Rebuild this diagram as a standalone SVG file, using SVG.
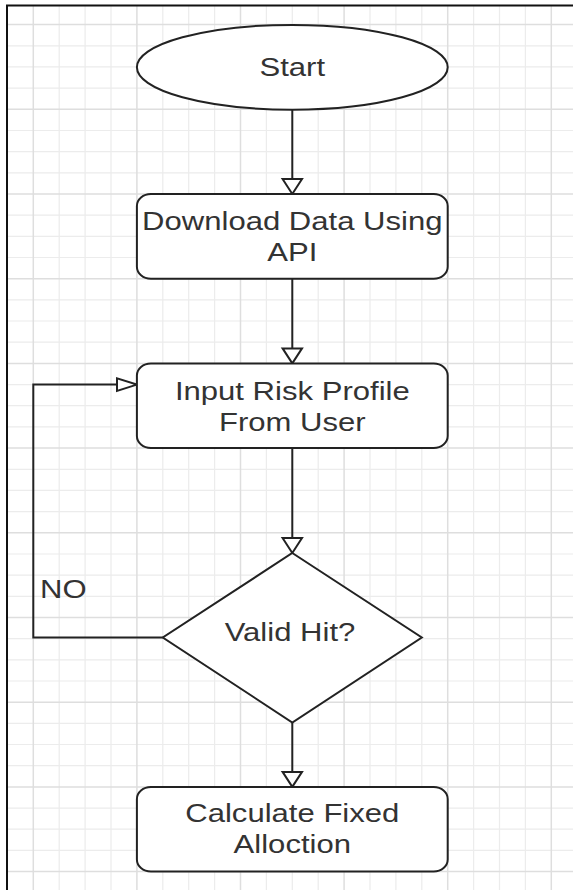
<svg xmlns="http://www.w3.org/2000/svg" width="573" height="890" viewBox="0 0 573 890">
  <style>
    .minor { stroke: #ececec; stroke-width: 1.2; fill: none; }
    .major { stroke: #dedede; stroke-width: 1.5; fill: none; }
    .frame { stroke: #111; stroke-width: 2; fill: none; }
    .shape { fill: #ffffff; stroke: #222; stroke-width: 2; }
    .edge { stroke: #222; stroke-width: 2; fill: none; }
    .head { fill: #ffffff; stroke: #222; stroke-width: 2; stroke-linejoin: miter; }
    .label { font-family: "Liberation Sans", Arial, Helvetica, sans-serif; font-size: 25.4px; fill: #333; text-anchor: middle; }
    .label.start { text-anchor: start; }
  </style>

  <!-- canvas -->
  <rect x="0" y="0" width="573" height="890" fill="#ffffff"/>

  <!-- background grid: minor cells 25.9 x 21.175, major every 4 cells -->
  <g id="grid">
    <path class="minor" d="
      M59.2 6V890 M85.1 6V890 M111 6V890 M162.8 6V890 M188.7 6V890 M214.6 6V890
      M266.4 6V890 M292.3 6V890 M318.2 6V890 M370 6V890 M395.9 6V890 M421.8 6V890
      M473.6 6V890 M499.5 6V890 M525.4 6V890
      M8 45.8H573 M8 66.9H573 M8 88.1H573 M8 130.5H573 M8 151.6H573 M8 172.8H573
      M8 215.2H573 M8 236.3H573 M8 257.5H573 M8 299.9H573 M8 321H573 M8 342.2H573
      M8 384.6H573 M8 405.7H573 M8 426.9H573 M8 469.3H573 M8 490.4H573 M8 511.6H573
      M8 554H573 M8 575.1H573 M8 596.3H573 M8 638.7H573 M8 659.8H573 M8 681H573
      M8 723.4H573 M8 744.5H573 M8 765.7H573 M8 808.1H573 M8 829.2H573 M8 850.4H573"/>
    <path class="major" d="
      M33.3 6V890 M136.9 6V890 M240.5 6V890 M344.1 6V890 M447.7 6V890 M551.3 6V890
      M8 24.6H573 M8 109.3H573 M8 194H573 M8 278.7H573 M8 363.4H573 M8 448.1H573
      M8 532.8H573 M8 617.5H573 M8 702.2H573 M8 786.9H573 M8 871.6H573"/>
  </g>

  <!-- page frame -->
  <path class="frame" d="M7 890V5.5H573"/>

  <!-- connectors -->
  <g id="connectors">
    <path class="edge" d="M292.3 110V179"/>
    <polygon class="head" points="282.6,179 302,179 292.3,194"/>

    <path class="edge" d="M292.3 279V348.4"/>
    <polygon class="head" points="282.6,348.4 302,348.4 292.3,363.4"/>

    <path class="edge" d="M292.3 448.1V538"/>
    <polygon class="head" points="282.6,538 302,538 292.3,553"/>

    <path class="edge" d="M292.3 722.5V771.9"/>
    <polygon class="head" points="282.6,771.9 302,771.9 292.3,786.9"/>

    <!-- NO branch loops back to the risk profile input -->
    <path class="edge" d="M162.8 637.5H33.3V384.6H117"/>
    <polygon class="head" points="117,378.3 117,390.9 136.9,384.6"/>
    <text class="label start" transform="translate(40 598) scale(1.2235 1)">NO</text>
  </g>

  <g id="start">
    <ellipse class="shape" cx="292.3" cy="67.3" rx="155.4" ry="42.4"/>
    <text class="label" transform="translate(292.3 75.5) scale(1.2235 1)">Start</text>
  </g>

  <g id="download">
    <rect class="shape" x="136.9" y="194" width="310.8" height="84.7" rx="14" ry="12"/>
    <text class="label" transform="translate(292.3 230) scale(1.2235 1)">Download Data Using</text>
    <text class="label" transform="translate(292.3 261) scale(1.2235 1)">API</text>
  </g>

  <g id="risk-profile">
    <rect class="shape" x="136.9" y="363.4" width="310.8" height="84.7" rx="14" ry="12"/>
    <text class="label" transform="translate(292.3 399.5) scale(1.2235 1)">Input Risk Profile</text>
    <text class="label" transform="translate(292.3 430.5) scale(1.2235 1)">From User</text>
  </g>

  <g id="valid-hit">
    <polygon class="shape" points="292.3,553 421.8,637.5 292.3,722.5 162.8,637.5"/>
    <text class="label" transform="translate(290 641) scale(1.2235 1)">Valid Hit?</text>
  </g>

  <g id="fixed-allocation">
    <rect class="shape" x="136.9" y="786.9" width="310.8" height="84.7" rx="14" ry="12"/>
    <text class="label" transform="translate(292.3 822) scale(1.2235 1)">Calculate Fixed</text>
    <text class="label" transform="translate(292.3 853) scale(1.2235 1)">Alloction</text>
  </g>
</svg>
